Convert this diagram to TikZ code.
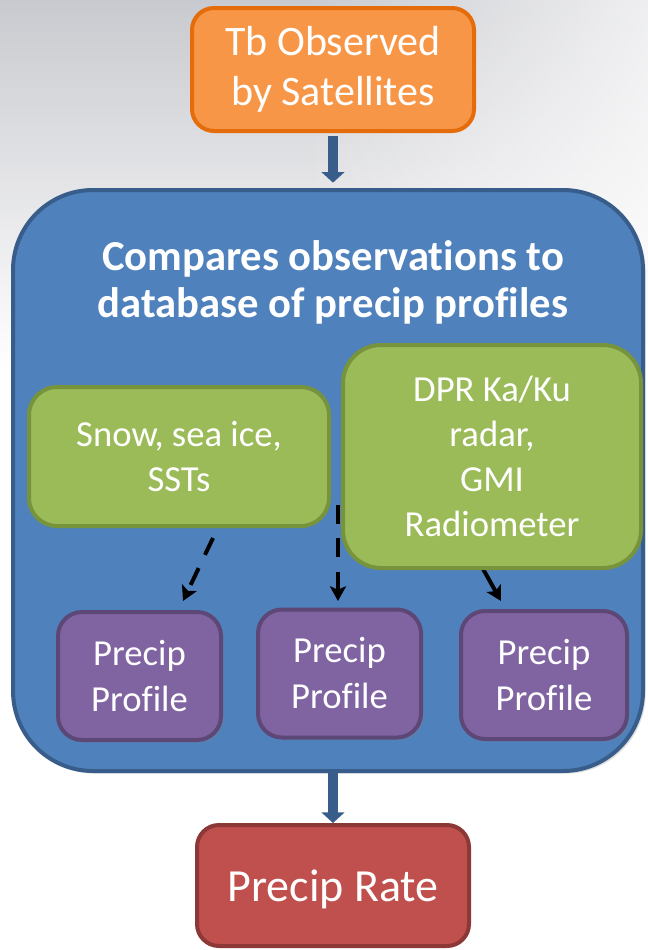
\documentclass[tikz,border=0pt]{standalone}
\usepackage{fontspec}
\setmainfont{Carlito}[Ligatures={NoCommon}]
\usetikzlibrary{arrows.meta,shadows,calc,fadings}
\definecolor{bgtop}{HTML}{C9CACF}
\definecolor{orF}{HTML}{F79646}
\definecolor{orD}{HTML}{E46C0A}
\definecolor{blF}{HTML}{4F81BD}
\definecolor{blD}{HTML}{385D8A}
\definecolor{grF}{HTML}{9BBB59}
\definecolor{grD}{HTML}{77933C}
\definecolor{puF}{HTML}{8064A2}
\definecolor{puD}{HTML}{5C4776}
\definecolor{reF}{HTML}{C0504D}
\definecolor{reD}{HTML}{8C3836}
\begin{document}
\begin{tikzpicture}[x=0.75pt,y=-0.75pt,
  box/.style={draw, line width=3pt, inner sep=0pt, align=center, text=white},
  orangebox/.style={box, fill=orF, draw=orD, minimum width=211.5pt, minimum height=92.25pt,
    rounded corners=16.5pt, font=\fontsize{31.5}{37.5}\selectfont},
  bigbox/.style={box, fill=blF, draw=blD, minimum width=472.5pt, minimum height=435.75pt,
    rounded corners=60pt, drop shadow={shadow xshift=2pt, shadow yshift=-2pt, opacity=0.25}},
  titletext/.style={align=center, text=white, inner sep=0pt, font=\bfseries\fontsize{32}{35.25}\selectfont},
  greenbox/.style={box, fill=grF, draw=grD, font=\fontsize{27.5}{33.75}\selectfont},
  purplebox/.style={box, fill=puF, draw=puD, minimum width=122.25pt, minimum height=96pt,
    rounded corners=18pt, font=\fontsize{27.5}{34.5}\selectfont,
    drop shadow={shadow xshift=2pt, shadow yshift=-2pt, opacity=0.3}},
  redbox/.style={box, fill=reF, draw=reD, minimum width=204pt, minimum height=90.75pt,
    rounded corners=16.5pt, font=\fontsize{34.5}{40}\selectfont, text depth=0pt},
  bluearrow/.style={draw=blD, line width=7.5pt, -{Triangle[length=8pt,width=17pt]}},
  dasharrow/.style={draw=black, line width=3pt, dash pattern=on 14pt off 11pt,
    -{Stealth[length=11pt,width=12pt,inset=2.5pt]}}
]
\useasboundingbox (0,0) rectangle (648,950);
\shade[top color=bgtop, bottom color=white] (0,0) rectangle (648,370);
\fill[white, path fading=west, opacity=0.7] (300,0) rectangle (648,370);

\node[bigbox] (db) at (328,480.5) {};
\node[titletext] (title) at (333,282) {Compares observations to\\database of precip profiles};

\node[greenbox, minimum width=225pt, minimum height=104.25pt, rounded corners=21pt]
  (snow) at (179,456.5) {Snow, sea ice,\\SSTs};

\coordinate (a1s) at (213,538);
\coordinate (a1e) at (183,601);
\coordinate (a2s) at (338,505);
\coordinate (a2e) at (338,601);
\coordinate (a3s) at (478,560);
\coordinate (a3e) at (501,601);
\draw[dasharrow] (a1s) -- (a1e);
\draw[dasharrow] (a2s) -- (a2e);
\draw[dasharrow, dash pattern=on 40pt off 10pt] (a3s) -- (a3e);

\node[greenbox, minimum width=223.5pt, minimum height=167.25pt, rounded corners=28.5pt]
  (dpr) at (492,456.5) {DPR Ka/Ku\\radar,\\GMI\\Radiometer};

\node[purplebox] (p1) at (139.5,676) {Precip\\Profile};
\node[purplebox] (p2) at (339.5,673.5) {Precip\\Profile};
\node[purplebox, minimum width=124.5pt] (p3) at (544,675) {Precip\\Profile};

\node[orangebox] (tb) at (333,69.5) {Tb Observed\\by Satellites};
\node[redbox] (rate) at (333,885.5) {Precip Rate};

\draw[bluearrow, shorten <=2pt, shorten >=4pt] (tb.south) -- (tb.south |- db.north);
\draw[bluearrow] (rate.north |- db.south) -- (rate.north);
\end{tikzpicture}
\end{document}
